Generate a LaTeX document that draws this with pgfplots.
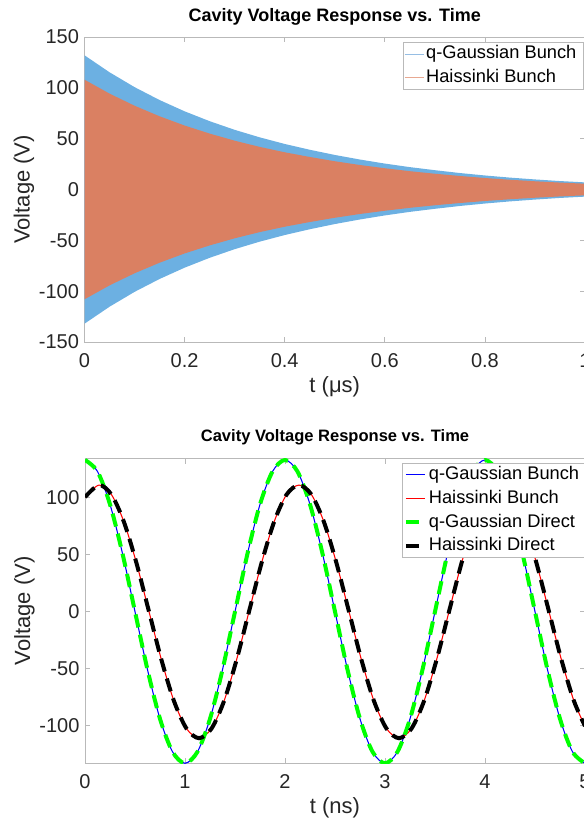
\documentclass[border=0pt]{standalone}
\usepackage{fontspec}
\setmainfont{Liberation Sans}
\usepackage{pgfplots}
\pgfplotsset{compat=1.18}
\usepackage{pgfplotstable}

\definecolor{qband}{RGB}{108,176,226}
\definecolor{hband}{RGB}{218,128,98}
\definecolor{qleg}{RGB}{150,190,228}
\definecolor{hleg}{RGB}{232,168,145}
\definecolor{axgray}{RGB}{185,185,185}
\definecolor{txt}{RGB}{38,38,38}
\definecolor{mblue}{RGB}{0,0,255}
\definecolor{mred}{RGB}{255,0,0}
\definecolor{mgreen}{RGB}{0,255,0}

\pgfplotstableread{
t v
0 133
0.125 122.88
0.25 94.05
0.375 50.90
0.5 0
0.625 -50.90
0.75 -94.05
0.875 -122.88
1 -133
1.125 -122.88
1.25 -94.05
1.375 -50.90
1.5 0
1.625 50.90
1.75 94.05
1.875 122.88
2 133
2.125 122.88
2.25 94.05
2.375 50.90
2.5 0
2.625 -50.90
2.75 -94.05
2.875 -122.88
3 -133
3.125 -122.88
3.25 -94.05
3.375 -50.90
3.5 0
3.625 50.90
3.75 94.05
3.875 122.88
4 133
4.125 122.88
4.25 94.05
4.375 50.90
4.5 0
4.625 -50.90
4.75 -94.05
4.875 -122.88
5 -133
}\qgdata

\pgfplotstableread{
t v
0 100.4
0.14 111
0.265 102.55
0.39 78.49
0.515 42.48
0.64 0
0.765 -42.48
0.89 -78.49
1.015 -102.55
1.14 -111
1.265 -102.55
1.39 -78.49
1.515 -42.48
1.64 0
1.765 42.48
1.89 78.49
2.015 102.55
2.14 111
2.265 102.55
2.39 78.49
2.515 42.48
2.64 0
2.765 -42.48
2.89 -78.49
3.015 -102.55
3.14 -111
3.265 -102.55
3.39 -78.49
3.515 -42.48
3.64 0
3.765 42.48
3.89 78.49
4.015 102.55
4.14 111
4.265 102.55
4.39 78.49
4.515 42.48
4.64 0
4.765 -42.48
4.89 -78.49
5 -100.4
}\hsdata

\pgfplotsset{
  mystyle/.style={
    scale only axis,
    axis line style={axgray, line width=0.75pt},
    tick style={axgray, line width=0.6pt},
    major tick length=4pt,
    tick align=inside,
    tick label style={font=\fontsize{15}{18}\selectfont, text=txt},
    xticklabel style={anchor=base, yshift=-19pt},
    yticklabel style={anchor=east, inner sep=0pt, xshift=-4pt},
    label style={font=\fontsize{16.5}{19}\selectfont, text=txt},
    xlabel style={at={(axis description cs:0.5,0)}, anchor=base, yshift=-38pt},
    ylabel style={at={(axis description cs:-0.121,0.5)}, anchor=center, inner sep=0pt},
    title style={font=\bfseries\fontsize{13.5}{16}\selectfont, text=black, at={(axis description cs:0.5,1)}, anchor=base},
    legend cell align=left,
    legend style={font=\fontsize{13.7}{16}\selectfont, draw=axgray, fill=white, text=black,
      inner xsep=1pt, inner ysep=2pt, row sep=4.8pt, column sep=1.5pt, anchor=north west,
      nodes={inner sep=0pt, text height=10pt, text depth=3pt}},
    legend image code/.code={\draw[##1] (0pt,0pt) -- (14.25pt,0pt);},
  }
}

\begin{document}
\begin{tikzpicture}
% ---------- top axis ----------
\begin{axis}[mystyle,
  at={(63.375pt,-27.75pt)}, anchor=north west,
  width=375.4pt, height=228.75pt,
  xmin=0, xmax=1, ymin=-150, ymax=150,
  xtick={0,0.2,0.4,0.6,0.8,1},
  xticklabels={0,0.2,0.4,0.6,0.8,1},
  ytick={-150,-100,-50,0,50,100,150},
  yticklabels={-150,-100,-50,0,50,100,150},
  xlabel={t (μs)}, ylabel={Voltage (V)},
  title={Cavity Voltage Response vs. Time},
  title style={yshift=5.25pt},
  legend style={at={(axis description cs:0.6358,0.9826)}},
]
\addplot[fill=qband, draw=none, forget plot] coordinates {
(0,132) (0.05,115.3) (0.1,100.7) (0.15,88.0) (0.2,76.9) (0.25,67.2) (0.3,58.7) (0.35,51.3) (0.4,44.8) (0.45,39.1) (0.5,34.0) (0.55,29.5) (0.6,25.5) (0.65,22.0) (0.7,19.0) (0.75,16.2) (0.8,13.8) (0.85,11.7) (0.9,9.9) (0.95,8.3) (1,7.0)
(1,-7.0) (0.95,-8.3) (0.9,-9.9) (0.85,-11.7) (0.8,-13.8) (0.75,-16.2) (0.7,-19.0) (0.65,-22.0) (0.6,-25.5) (0.55,-29.5) (0.5,-34.0) (0.45,-39.1) (0.4,-44.8) (0.35,-51.3) (0.3,-58.7) (0.25,-67.2) (0.2,-76.9) (0.15,-88.0) (0.1,-100.7) (0.05,-115.3) (0,-132)
} -- cycle;
\addplot[fill=hband, draw=none, forget plot] coordinates {
(0,108) (0.05,94.3) (0.1,82.4) (0.15,72.0) (0.2,62.9) (0.25,55.0) (0.3,48.0) (0.35,41.9) (0.4,36.6) (0.45,32.0) (0.5,27.8) (0.55,24.1) (0.6,20.9) (0.65,18.0) (0.7,15.5) (0.75,13.3) (0.8,11.3) (0.85,9.6) (0.9,8.1) (0.95,6.8) (1,5.7)
(1,-5.7) (0.95,-6.8) (0.9,-8.1) (0.85,-9.6) (0.8,-11.3) (0.75,-13.3) (0.7,-15.5) (0.65,-18.0) (0.6,-20.9) (0.55,-24.1) (0.5,-27.8) (0.45,-32.0) (0.4,-36.6) (0.35,-41.9) (0.3,-48.0) (0.25,-55.0) (0.2,-62.9) (0.15,-72.0) (0.1,-82.4) (0.05,-94.3) (0,-108)
} -- cycle;
\addlegendimage{qleg, line width=0.6pt}
\addlegendentry{q-Gaussian Bunch\hspace*{4pt}}
\addlegendimage{hleg, line width=0.6pt}
\addlegendentry{Haissinki Bunch}
\end{axis}

% ---------- bottom axis ----------
\begin{axis}[mystyle,
  at={(63.75pt,-343.7pt)}, anchor=north west,
  width=375pt, height=228.75pt,
  xmin=0, xmax=5, ymin=-133, ymax=134.5,
  xtick={0,1,2,3,4,5},
  xticklabels={0,1,2,3,4,5},
  ytick={-100,-50,0,50,100},
  yticklabels={-100,-50,0,50,100},
  xlabel={t (ns)}, ylabel={Voltage (V)},
  title={Cavity Voltage Response vs. Time},
  title style={yshift=6.75pt, font=\bfseries\fontsize{12.4}{15}\selectfont},
  legend style={at={(axis description cs:0.6346,0.9836)}},
]
\addplot[mblue, line width=0.8pt, smooth] table[x=t, y=v] {\qgdata};
\addlegendentry{q-Gaussian Bunch\hspace*{4pt}}
\addplot[mred, line width=0.8pt, smooth] table[x=t, y=v] {\hsdata};
\addlegendentry{Haissinki Bunch}
\addplot[mgreen, line width=3pt, smooth, dash pattern=on 10pt off 5.5pt] table[x=t, y=v] {\qgdata};
\addlegendentry{q-Gaussian Direct}
\addplot[black, line width=3pt, smooth, dash pattern=on 10pt off 5.5pt] table[x=t, y=v] {\hsdata};
\addlegendentry{Haissinki Direct}
\end{axis}

\pgfresetboundingbox
\useasboundingbox (0,0) rectangle (437.25pt,-615.75pt);
\end{tikzpicture}
\end{document}
